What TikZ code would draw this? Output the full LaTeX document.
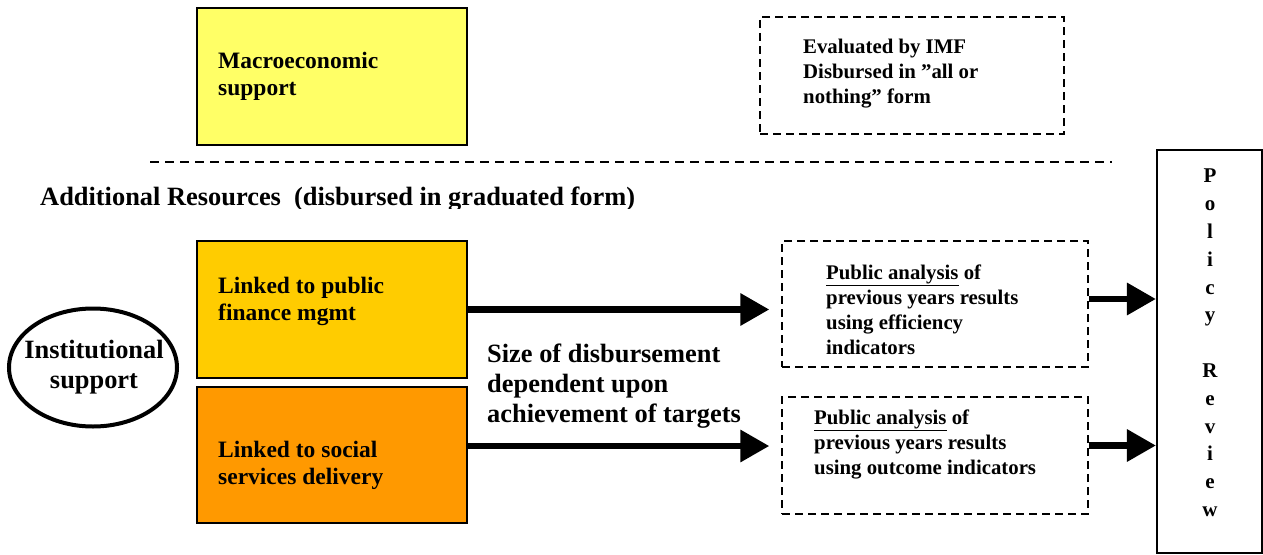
\documentclass[tikz,border=0pt]{standalone}
\usepackage{fontspec}
\setmainfont{Liberation Serif}
\usetikzlibrary{arrows.meta,shapes.geometric}
\definecolor{macroY}{HTML}{FFFF66}
\definecolor{pfY}{HTML}{FFCC00}
\definecolor{ssO}{HTML}{FF9900}
\begin{document}
\begin{tikzpicture}[x=1pt,y=-1pt,
  solidbox/.style={draw=black,line width=2pt,inner sep=0pt},
  dashbox/.style={draw=black,line width=1.4pt,dash pattern=on 8pt off 5pt,inner sep=0pt},
  lbl/.style={font=\fontsize{23.5}{27}\selectfont\bfseries,align=left,inner sep=0pt,anchor=west},
  slbl/.style={font=\fontsize{20.8}{25}\selectfont\bfseries,align=left,inner sep=0pt,anchor=west},
  biglbl/.style={font=\fontsize{26.4}{30}\selectfont\bfseries,align=left,inner sep=0pt,anchor=west},
  bigarrow/.style={line width=6.5pt,-{Triangle[length=29pt,width=31pt]}}]
\useasboundingbox (0,0) rectangle (1263,554);
% top part
\node[solidbox,fill=macroY,minimum width=270pt,minimum height=137pt] (macro) at (332,76.5) {};
\node[lbl] (macrot) at (218,76) {Macroeconomic\\support};
\node[dashbox,minimum width=304pt,minimum height=117pt] (imf) at (912,75.5) {};
\node[slbl] (imft) at (803,74) {Evaluated by IMF\\Disbursed in ''all or\\nothing'' form};
\coordinate (dl) at (150,162);
\coordinate (dr) at (1112,162);
\draw[line width=1.4pt,dash pattern=on 9pt off 6pt] (dl) -- (dr);
\begin{scope}
\clip (0,170) rectangle (700,208);
\node[biglbl] (addt) at (40,199) {Additional Resources\ \ (disbursed in graduated form)};
\end{scope}
% institutional
\node[draw=black,line width=4pt,ellipse,minimum width=168pt,minimum height=118pt,inner sep=0pt] (inst) at (93,367.5) {};
\node[biglbl,align=center,anchor=center] (instt) at (94,367) {Institutional\\support};
\node[solidbox,fill=pfY,minimum width=270pt,minimum height=137pt] (pf) at (332,309.5) {};
\node[lbl] (pft) at (218,301) {Linked to public\\finance mgmt};
\node[solidbox,fill=ssO,minimum width=270pt,minimum height=136pt] (ss) at (332,455) {};
\node[lbl] (sst) at (218,465) {Linked to social\\services delivery};
\node[biglbl] (size) at (487,386) {Size of disbursement\\dependent upon\\achievement of targets};
% analysis boxes
\node[dashbox,minimum width=306pt,minimum height=126pt] (pa1) at (935,304) {};
\node[slbl] (pa1t) at (826,310) {\underline{Public analysis} of\\previous years results\\using efficiency\\indicators};
\node[dashbox,minimum width=306pt,minimum height=117pt] (pa2) at (935,455.5) {};
\node[slbl] (pa2t) at (814,444) {\underline{Public analysis} of\\previous years results\\using outcome indicators};
% policy review
\node[draw=black,line width=2.2pt,minimum width=105pt,minimum height=403pt,inner sep=0pt] (pol) at (1209.5,351.5) {};
\node[font=\fontsize{21}{27.8}\selectfont\bfseries,align=center,inner sep=0pt] (polt) at (1210,343) {P\\o\\l\\i\\c\\y\\[27.8pt]R\\e\\v\\i\\e\\w};
% arrows
\coordinate (a1s) at (pf.east);
\coordinate (a2s) at ([yshift=9pt]ss.east);
\coordinate (a3s) at ([yshift=5pt]pa1.east);
\coordinate (a4s) at ([yshift=10pt]pa2.east);
\draw[bigarrow,shorten >=12pt] (a1s) -- (a1s -| pa1.west);
\draw[bigarrow,shorten >=12pt] (a2s) -- (a2s -| pa2.west);
\draw[bigarrow] (a3s) -- (a3s -| pol.west);
\draw[bigarrow] (a4s) -- (a4s -| pol.west);
\end{tikzpicture}
\end{document}
